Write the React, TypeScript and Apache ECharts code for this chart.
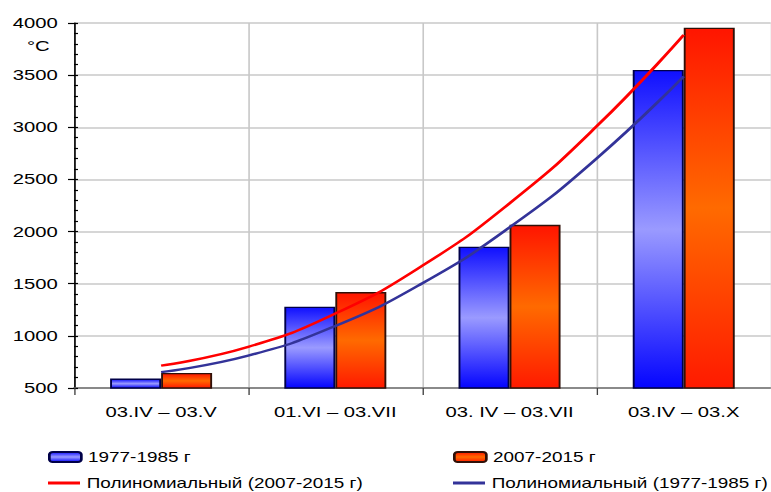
import React, { useEffect, useRef } from "react";
import * as echarts from "echarts";

// ---- data ----
const categories = ["03.IV – 03.V", "01.VI – 03.VII", "03. IV – 03.VII", "03.IV – 03.X"];
const seriesNames = [
  "1977-1985 г",
  "2007-2015 г",
  "Полиномиальный (2007-2015 г)",
  "Полиномиальный (1977-1985 г)",
];
const values1977 = [590, 1280, 1855, 3550];
const values2007 = [645, 1420, 2065, 3955];
// trend lines (x = category position, 1..4)
const trendX = [1, 1.5, 2, 2.5, 3, 3.5, 4];
const trend2007 = [714, 894, 1214, 1673, 2271, 3009, 3886];
const trend1977 = [652, 810, 1095, 1505, 2040, 2701, 3488];
const yMin = 500;
const yMax = 4000;
const yStep = 500;
const unitLabel = "°C";

// ---- layout ----
const W = 771;
const H = 492;
const SX = 1.35; // reference is horizontally stretched
const CW = Math.round(W / SX);
const FONT = "'Liberation Sans', Arial, sans-serif";

const blueGrad = {
  type: "linear", x: 0, y: 0, x2: 0, y2: 1,
  colorStops: [
    { offset: 0, color: "#1010FF" },
    { offset: 0.5, color: "#9A9AFF" },
    { offset: 1, color: "#0505FF" },
  ],
};
const orangeGrad = {
  type: "linear", x: 0, y: 0, x2: 0, y2: 1,
  colorStops: [
    { offset: 0, color: "#FF1500" },
    { offset: 0.5, color: "#FF6A00" },
    { offset: 1, color: "#FF1A00" },
  ],
};

function buildOption() {
  const legendBase = {
    orient: "horizontal",
    padding: 0,
    itemWidth: 32 / SX,
    itemHeight: 10,
    itemGap: 0,
    textStyle: { fontFamily: FONT, fontSize: 14, color: "#000", lineHeight: 16 },
    selectedMode: false,
  };
  return {
    animation: false,
    backgroundColor: "#fff",
    textStyle: { fontFamily: FONT },
    grid: { left: 74 / SX, right: CW - 774 / SX, top: 23, bottom: H - 388, containLabel: false },
    legend: [
      { ...legendBase, left: 48 / SX, top: 449, data: [seriesNames[0]] },
      { ...legendBase, left: 453 / SX, top: 449, data: [seriesNames[1]] },
      { ...legendBase, left: 48 / SX, top: 475, itemHeight: 3, icon: "rect", data: [seriesNames[2]] },
      { ...legendBase, left: 453 / SX, top: 475, itemHeight: 3, icon: "rect", data: [seriesNames[3]] },
    ],
    xAxis: [
      {
        type: "category",
        data: categories,
        boundaryGap: true,
        axisLine: { show: true, lineStyle: { color: "#707070", width: 1.5 } },
        axisTick: { show: true, length: 7, lineStyle: { color: "#404040", width: 1 } },
        axisLabel: { color: "#000", fontSize: 15, fontFamily: FONT, margin: 16, interval: 0 },
        splitLine: { show: true, interval: 0, lineStyle: { color: "#C8C8C8", width: 1.2 } },
      },
      {
        type: "value",
        min: 0.5,
        max: 4.5,
        show: false,
      },
    ],
    yAxis: [
      {
        type: "value",
        min: yMin,
        max: yMax,
        interval: yStep,
        axisLine: { show: true, lineStyle: { color: "#000", width: 1.2 } },
        axisTick: { show: true, length: 6 / SX, lineStyle: { color: "#000", width: 1.2 } },
        axisLabel: {
          color: "#000",
          fontSize: 15,
          fontFamily: FONT,
          margin: 12,
          formatter: (v: number) => String(v),
        },
        splitLine: { show: true, lineStyle: { color: "#C8C8C8", width: 1.5 } },
      },
      {
        type: "value",
        min: yMin,
        max: yMax,
        interval: yStep,
        position: "left",
        axisLine: { show: false },
        axisLabel: { show: false },
        axisTick: { show: true, inside: true, length: 4 / SX, lineStyle: { color: "#000", width: 1.2 } },
        minorTick: { show: true, splitNumber: 5, length: 4 / SX, lineStyle: { color: "#000", width: 1.2 } },
        splitLine: { show: false },
        minorSplitLine: { show: false },
      },
    ],
    graphic: [
      {
        type: "text",
        left: 27 / SX,
        top: 38,
        style: { text: unitLabel, fontSize: 15, fontFamily: FONT, fill: "#000" },
      },
    ],
    series: [
      {
        name: seriesNames[0],
        type: "bar",
        data: values1977,
        barWidth: 51 / SX,
        barGap: "0%",
        itemStyle: { color: blueGrad, borderColor: "#000048", borderWidth: 1.4 },
        z: 2,
      },
      {
        name: seriesNames[1],
        type: "bar",
        data: values2007,
        barWidth: 51 / SX,
        barGap: "0%",
        itemStyle: { color: orangeGrad, borderColor: "#301008", borderWidth: 1.4 },
        z: 2,
      },
      {
        name: seriesNames[2],
        type: "line",
        xAxisIndex: 1,
        data: trendX.map((x, i) => [x, trend2007[i]]),
        smooth: true,
        symbol: "none",
        lineStyle: { color: "#FF0000", width: 2.4 },
        itemStyle: { color: "#FF0000" },
        z: 5,
      },
      {
        name: seriesNames[3],
        type: "line",
        xAxisIndex: 1,
        data: trendX.map((x, i) => [x, trend1977[i]]),
        smooth: true,
        symbol: "none",
        lineStyle: { color: "#333399", width: 2.4 },
        itemStyle: { color: "#333399" },
        z: 5,
      },
    ],
  };
}

export default function App() {
  const ref = useRef<HTMLDivElement>(null);
  useEffect(() => {
    if (!ref.current) return;
    const chart = echarts.init(ref.current, null, { renderer: "svg", width: CW, height: H });
    chart.setOption(buildOption() as any);
    return () => chart.dispose();
  }, []);
  return (
    <div
      style={{
        position: "fixed",
        left: 0,
        top: 0,
        width: W,
        height: H,
        overflow: "hidden",
        background: "#fff",
      }}
    >
      <div
        ref={ref}
        style={{
          width: CW,
          height: H,
          transform: `scaleX(${SX})`,
          transformOrigin: "0 0",
        }}
      />
    </div>
  );
}
